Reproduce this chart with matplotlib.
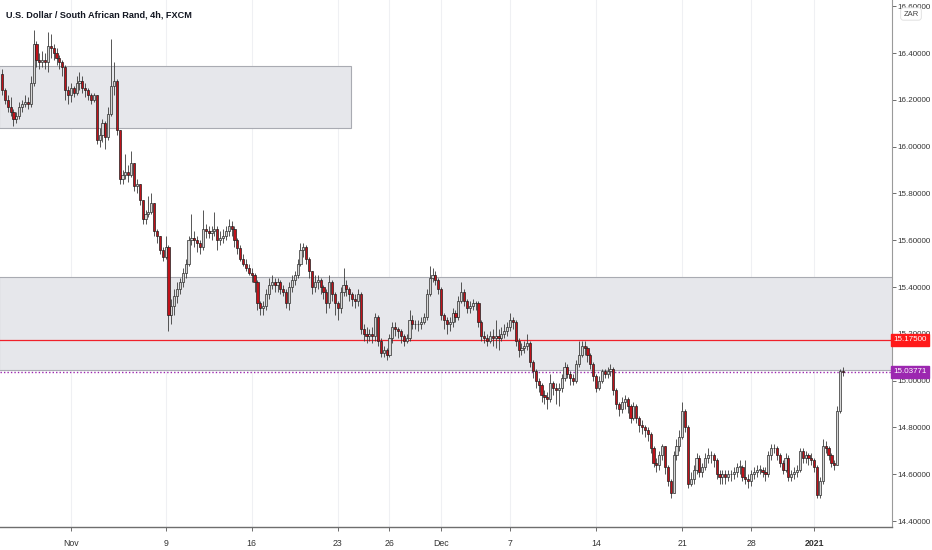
import numpy as np
import matplotlib
matplotlib.use("Agg")
import matplotlib.pyplot as plt
from matplotlib.patches import Rectangle

# the chart's text is narrow, so Liberation Sans at small sizes
plt.rcParams['font.family'] = ['Liberation Sans', 'DejaVu Sans']
fs_y = 5.8
fs_x = 6.3

# USD/ZAR 4h candles (open = previous close)
first_open = 16.31
closes = [
    16.24, 16.20, 16.17, 16.15, 16.12, 16.13, 16.17, 16.18, 16.19, 16.18,
    16.27, 16.44, 16.37, 16.36, 16.37, 16.36, 16.43, 16.42, 16.40, 16.38,
    16.36, 16.34, 16.24, 16.22, 16.25, 16.23, 16.27, 16.28, 16.25, 16.24,
    16.22, 16.20, 16.22, 16.03, 16.05, 16.10, 16.04, 16.14, 16.26, 16.28,
    16.07, 15.86, 15.88, 15.89, 15.88, 15.93, 15.83, 15.84, 15.77, 15.69,
    15.71, 15.72, 15.76, 15.64, 15.62, 15.56, 15.53, 15.57, 15.28, 15.32,
    15.36, 15.39, 15.42, 15.46, 15.50, 15.60, 15.61, 15.60, 15.59, 15.57,
    15.65, 15.64, 15.63, 15.64, 15.65, 15.60, 15.61, 15.62, 15.64, 15.66,
    15.65, 15.60, 15.565, 15.52, 15.50, 15.48, 15.46, 15.45, 15.42, 15.33,
    15.31, 15.32, 15.37, 15.41, 15.42, 15.41, 15.42, 15.39, 15.38, 15.33,
    15.40, 15.43, 15.45, 15.50, 15.56, 15.57, 15.52, 15.47, 15.40, 15.42,
    15.43, 15.40, 15.38, 15.33, 15.42, 15.37, 15.33, 15.31, 15.38, 15.41,
    15.39, 15.37, 15.35, 15.34, 15.37, 15.22, 15.20, 15.19, 15.20, 15.19,
    15.27, 15.17, 15.12, 15.13, 15.11, 15.18, 15.23, 15.22, 15.21, 15.19,
    15.17, 15.18, 15.26, 15.24, 15.24, 15.24, 15.25, 15.27, 15.37, 15.44,
    15.45, 15.43, 15.39, 15.28, 15.26, 15.24, 15.25, 15.29, 15.27, 15.34,
    15.38, 15.34, 15.31, 15.32, 15.33, 15.33, 15.25, 15.19, 15.18, 15.17,
    15.19, 15.18, 15.19, 15.18, 15.20, 15.21, 15.23, 15.26, 15.25, 15.17,
    15.13, 15.14, 15.15, 15.16, 15.08, 15.04, 15.00, 14.98, 14.94, 14.93,
    14.92, 14.99, 14.97, 14.96, 14.97, 15.01, 15.06, 15.03, 15.01, 15.00,
    15.07, 15.11, 15.15, 15.14, 15.11, 15.07, 15.02, 14.97, 15.00, 15.04,
    15.03, 15.04, 15.05, 14.96, 14.90, 14.88, 14.91, 14.92, 14.89, 14.84,
    14.89, 14.84, 14.81, 14.80, 14.79, 14.77, 14.71, 14.65, 14.64, 14.68,
    14.72, 14.63, 14.57, 14.52, 14.68, 14.72, 14.76, 14.87, 14.80, 14.56,
    14.58, 14.62, 14.67, 14.61, 14.63, 14.67, 14.68, 14.68, 14.66, 14.60,
    14.59, 14.60, 14.59, 14.60, 14.60, 14.61, 14.63, 14.63, 14.59, 14.58,
    14.57, 14.60, 14.61, 14.62, 14.62, 14.61, 14.60, 14.68, 14.71, 14.71,
    14.68, 14.65, 14.62, 14.67, 14.59, 14.60, 14.61, 14.62, 14.70, 14.67,
    14.68, 14.67, 14.66, 14.63, 14.51, 14.57, 14.72, 14.71, 14.68, 14.65,
    14.64, 14.87, 15.04, 15.03771,
]
highs = [
    16.33, 16.25, 16.22, 16.21, 16.16, 16.15, 16.19, 16.20, 16.22, 16.21,
    16.30, 16.50, 16.45, 16.40, 16.41, 16.40, 16.49, 16.48, 16.44, 16.42,
    16.39, 16.37, 16.35, 16.26, 16.27, 16.26, 16.30, 16.32, 16.30, 16.27,
    16.25, 16.23, 16.23, 16.22, 16.08, 16.12, 16.11, 16.17, 16.46, 16.36,
    16.29, 16.07, 15.90, 15.97, 15.92, 15.98, 15.93, 15.86, 15.84, 15.77,
    15.73, 15.79, 15.80, 15.76, 15.65, 15.62, 15.57, 15.62, 15.58, 15.35,
    15.39, 15.42, 15.44, 15.48, 15.52, 15.62, 15.71, 15.64, 15.62, 15.60,
    15.73, 15.67, 15.66, 15.66, 15.72, 15.66, 15.64, 15.65, 15.66, 15.69,
    15.68, 15.66, 15.61, 15.58, 15.54, 15.52, 15.50, 15.48, 15.46, 15.43,
    15.34, 15.34, 15.39, 15.44, 15.45, 15.44, 15.44, 15.43, 15.41, 15.39,
    15.42, 15.45, 15.47, 15.52, 15.59, 15.59, 15.58, 15.53, 15.47, 15.45,
    15.45, 15.44, 15.41, 15.39, 15.45, 15.43, 15.38, 15.34, 15.40, 15.48,
    15.43, 15.40, 15.38, 15.37, 15.39, 15.38, 15.24, 15.23, 15.22, 15.23,
    15.29, 15.28, 15.18, 15.15, 15.14, 15.20, 15.25, 15.25, 15.23, 15.22,
    15.20, 15.20, 15.30, 15.28, 15.26, 15.26, 15.27, 15.29, 15.39, 15.49,
    15.48, 15.47, 15.44, 15.40, 15.29, 15.27, 15.27, 15.31, 15.30, 15.36,
    15.42, 15.39, 15.35, 15.34, 15.35, 15.34, 15.34, 15.26, 15.21, 15.20,
    15.21, 15.22, 15.26, 15.22, 15.23, 15.24, 15.25, 15.29, 15.27, 15.26,
    15.18, 15.16, 15.17, 15.20, 15.17, 15.09, 15.05, 15.01, 14.99, 14.96,
    14.95, 15.03, 15.00, 14.99, 14.99, 15.03, 15.08, 15.07, 15.04, 15.03,
    15.09, 15.17, 15.17, 15.17, 15.15, 15.12, 15.08, 15.03, 15.02, 15.05,
    15.05, 15.06, 15.07, 15.06, 14.97, 14.91, 14.93, 14.94, 14.93, 14.90,
    14.91, 14.90, 14.85, 14.83, 14.81, 14.80, 14.78, 14.72, 14.67, 14.70,
    14.73, 14.72, 14.64, 14.58, 14.70, 14.75, 14.79, 14.91, 14.88, 14.81,
    14.61, 14.64, 14.69, 14.68, 14.65, 14.69, 14.71, 14.70, 14.69, 14.67,
    14.62, 14.62, 14.62, 14.62, 14.62, 14.63, 14.65, 14.66, 14.64, 14.66,
    14.60, 14.62, 14.63, 14.64, 14.64, 14.63, 14.63, 14.70, 14.73, 14.73,
    14.72, 14.69, 14.66, 14.69, 14.68, 14.62, 14.63, 14.64, 14.71, 14.71,
    14.70, 14.69, 14.69, 14.67, 14.64, 14.59, 14.75, 14.74, 14.72, 14.69,
    14.66, 14.89, 15.05, 15.06,
]
lows = [
    16.22, 16.18, 16.15, 16.13, 16.09, 16.10, 16.12, 16.15, 16.17, 16.16,
    16.17, 16.26, 16.34, 16.33, 16.34, 16.33, 16.32, 16.38, 16.37, 16.35,
    16.33, 16.30, 16.20, 16.18, 16.19, 16.21, 16.22, 16.24, 16.23, 16.21,
    16.20, 16.18, 16.19, 16.01, 16.00, 16.02, 15.99, 16.03, 16.13, 16.22,
    16.05, 15.84, 15.84, 15.86, 15.85, 15.87, 15.81, 15.80, 15.75, 15.67,
    15.67, 15.70, 15.71, 15.62, 15.59, 15.54, 15.51, 15.52, 15.21, 15.24,
    15.28, 15.33, 15.37, 15.40, 15.44, 15.49, 15.58, 15.57, 15.55, 15.54,
    15.56, 15.61, 15.61, 15.60, 15.62, 15.56, 15.58, 15.59, 15.60, 15.62,
    15.62, 15.57, 15.54, 15.51, 15.49, 15.47, 15.45, 15.42, 15.38, 15.30,
    15.28, 15.28, 15.30, 15.35, 15.39, 15.38, 15.38, 15.37, 15.36, 15.31,
    15.30, 15.38, 15.41, 15.44, 15.49, 15.53, 15.50, 15.44, 15.37, 15.38,
    15.39, 15.37, 15.35, 15.29, 15.31, 15.34, 15.28, 15.26, 15.29, 15.36,
    15.36, 15.34, 15.32, 15.31, 15.32, 15.20, 15.17, 15.16, 15.17, 15.16,
    15.17, 15.15, 15.10, 15.10, 15.09, 15.10, 15.16, 15.19, 15.18, 15.16,
    15.15, 15.16, 15.17, 15.22, 15.22, 15.21, 15.22, 15.24, 15.26, 15.36,
    15.42, 15.41, 15.37, 15.26, 15.22, 15.20, 15.21, 15.23, 15.25, 15.26,
    15.33, 15.32, 15.29, 15.29, 15.30, 15.30, 15.23, 15.17, 15.16, 15.15,
    15.16, 15.15, 15.14, 15.13, 15.17, 15.18, 15.19, 15.21, 15.22, 15.15,
    15.10, 15.11, 15.12, 15.13, 15.06, 15.01, 14.97, 14.95, 14.91, 14.90,
    14.88, 14.91, 14.94, 14.90, 14.89, 14.95, 15.00, 15.01, 14.98, 14.98,
    14.99, 15.06, 15.10, 15.11, 15.08, 15.05, 15.00, 14.95, 14.96, 14.99,
    15.01, 15.01, 15.02, 14.94, 14.88, 14.85, 14.86, 14.88, 14.86, 14.82,
    14.83, 14.82, 14.78, 14.77, 14.76, 14.74, 14.69, 14.63, 14.61, 14.62,
    14.66, 14.60, 14.55, 14.50, 14.52, 14.66, 14.70, 14.75, 14.78, 14.54,
    14.55, 14.56, 14.60, 14.59, 14.59, 14.62, 14.65, 14.65, 14.63, 14.58,
    14.56, 14.56, 14.56, 14.57, 14.57, 14.58, 14.59, 14.60, 14.57, 14.56,
    14.54, 14.55, 14.58, 14.59, 14.60, 14.59, 14.57, 14.59, 14.66, 14.69,
    14.66, 14.63, 14.60, 14.61, 14.57, 14.57, 14.58, 14.59, 14.61, 14.65,
    14.65, 14.64, 14.64, 14.61, 14.50, 14.50, 14.56, 14.69, 14.66, 14.63,
    14.62, 14.64, 14.86, 15.02,
]
opens = [first_open] + closes[:-1]

tick_pos = [24, 57, 87, 117, 135, 153, 177, 207, 237, 261, 283]
tick_labels = ['Nov', '9', '16', '23', '26', 'Dec', '7', '14', '21', '28', '2021']
price_ticks = [14.4, 14.6, 14.8, 15.0, 15.2, 15.4, 15.6, 15.8, 16.0, 16.2, 16.4, 16.6]

zone_top = (16.078, 16.344, 121.5)   # low, high, right end (bar index)
zone_mid = (15.045, 15.444)
level_red = 15.175
last_price = 15.03771

fig = plt.figure(figsize=(9.32, 5.5), dpi=100)
ax = fig.add_axes([0.0, 1 - 527 / 550, 892 / 932, 527 / 550])
ax.set_xlim(-0.7, 310.1)
ax.set_ylim(14.3744, 16.6265)

for t in tick_pos:
    ax.axvline(t, color='#eff0f3', lw=0.8, zorder=0)

# zones
ax.add_patch(Rectangle((-1, zone_top[0]), zone_top[2] + 1, zone_top[1] - zone_top[0],
                       facecolor='#e6e7eb', edgecolor='#a9abb2', lw=0.8, zorder=1))
ax.add_patch(Rectangle((-1, zone_mid[0]), 320, zone_mid[1] - zone_mid[0],
                       facecolor='#e6e7eb', edgecolor='#a9abb2', lw=0.8, zorder=1))

ax.axhline(level_red, color='#f0202a', lw=0.9, zorder=2)
ax.axhline(last_price, color='#9c27b0', lw=1.0, ls=(0, (1, 1.5)), zorder=2)

idx = np.arange(len(closes))
o = np.array(opens)
c = np.array(closes)
h = np.array(highs)
l = np.array(lows)
up = c >= o

ax.vlines(idx, l, h, color='#3a3a3a', lw=0.6, zorder=3)
body_lo = np.minimum(o, c)
body_h = np.maximum(np.abs(c - o), 0.003)
ax.bar(idx[up], body_h[up], bottom=body_lo[up], width=0.75,
       color='#d7d7d7', edgecolor='#2b2b2b', lw=0.5, zorder=4)
ax.bar(idx[~up], body_h[~up], bottom=body_lo[~up], width=0.75,
       color='#c0121a', edgecolor='#1f1f1f', lw=0.5, zorder=4)

for s in ['top', 'left']:
    ax.spines[s].set_visible(False)
ax.spines['right'].set_color('#9a9a9a')
ax.spines['bottom'].set_color('#6e6e6e')
ax.spines['right'].set_linewidth(0.8)
ax.spines['bottom'].set_linewidth(1.0)

ax.yaxis.tick_right()
ax.set_yticks(price_ticks)
ax.set_yticklabels(['%.5f' % p for p in price_ticks])
ax.tick_params(axis='y', length=3, width=0.6, color='#555555', labelsize=fs_y,
               labelcolor='#333333', pad=1)
ax.set_xticks(tick_pos)
ax.set_xticklabels(tick_labels)
ax.tick_params(axis='x', length=3, width=0.6, color='#555555', labelsize=fs_x,
               labelcolor='#333333', pad=6)
for lab in ax.get_xticklabels():
    if lab.get_text() == '2021':
        lab.set_fontweight('bold')

# price labels on axis
for val, col in [(level_red, '#ff1a1a'), (last_price, '#9c27b0')]:
    ax.annotate('%.5f' % val, xy=(1.0, val), xycoords=('axes fraction', 'data'),
                xytext=(1.0, 0), textcoords='offset points', ha='left', va='center',
                fontsize=fs_y, color='white', zorder=10, annotation_clip=False,
                bbox=dict(boxstyle='square,pad=0.3', fc=col, ec=col))

fig.text(911 / 932, 1 - 14 / 550, 'ZAR', fontsize=5.5, color='#444444',
         ha='center', va='center', zorder=10,
         bbox=dict(boxstyle='round,pad=0.35', fc='white', ec='#dddddd', lw=0.6))

fig.text(6 / 932, 1 - 15 / 550, 'U.S. Dollar / South African Rand, 4h, FXCM',
         fontsize=6.6, color='#131722', ha='left', va='center',
         fontweight='bold')

fig.savefig('out.png', dpi=100)
